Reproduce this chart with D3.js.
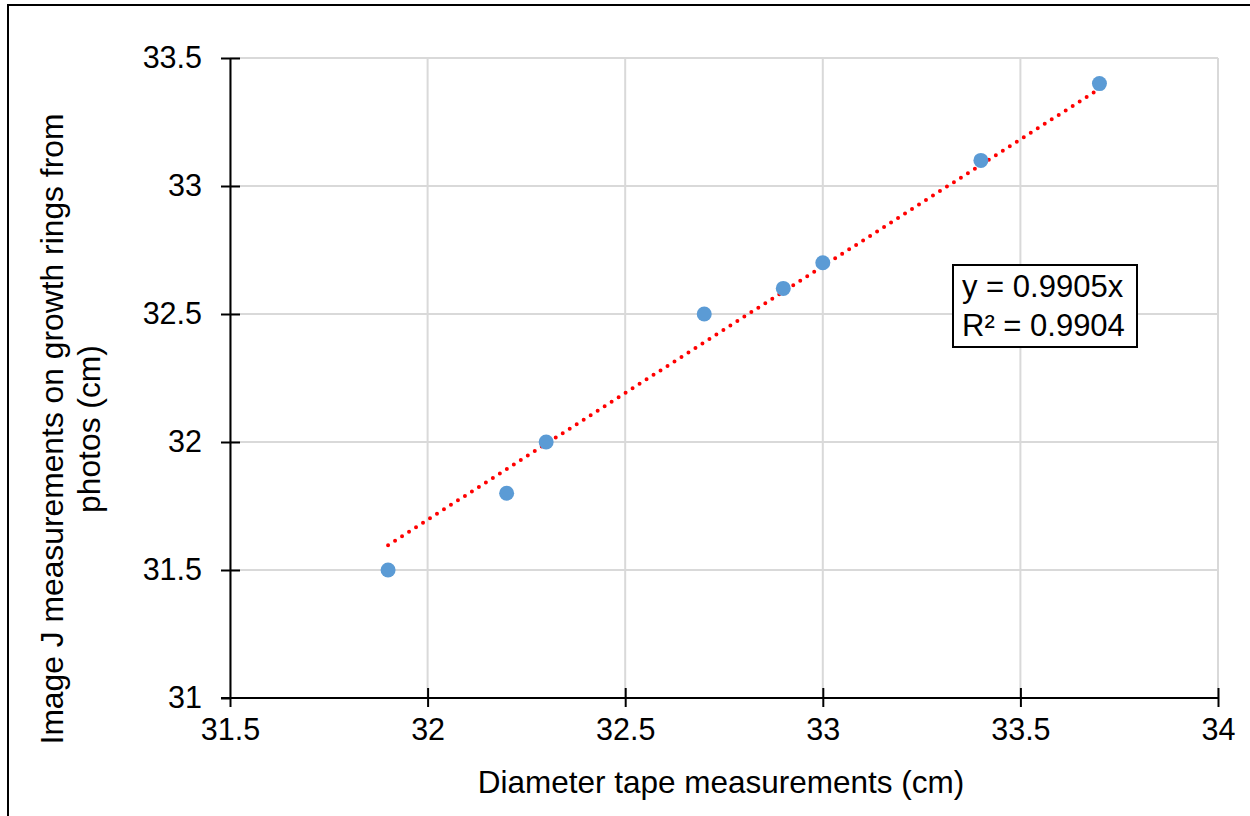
<!DOCTYPE html>
<html><head><meta charset="utf-8">
<script src="https://cdn.jsdelivr.net/npm/d3@7"></script>
<style>html,body{margin:0;padding:0;background:#fff;}svg{display:block;font-family:"Liberation Sans",Arial,sans-serif;}</style>
</head><body>
<svg id="c" width="1250" height="816"></svg>
<script>
const xValues = [31.9, 32.2, 32.3, 32.7, 32.9, 33.0, 33.4, 33.7];
const yValues = [31.5, 31.8, 32.0, 32.5, 32.6, 32.7, 33.1, 33.4];
const xTicks = [31.5, 32, 32.5, 33, 33.5, 34];
const yTicks = [31, 31.5, 32, 32.5, 33, 33.5];
const slope = 0.9905;
const eqLines = ["y = 0.9905x", "R² = 0.9904"];
const xTitle = "Diameter tape measurements (cm)";
const yTitleLines = ["Image J measurements on growth rings from", "photos (cm)"];

const svg = d3.select("#c");
const L = 230, R = 1218, T = 58, B = 698;
const x = d3.scaleLinear().domain([31.5, 34]).range([L, R]);
const y = d3.scaleLinear().domain([31, 33.5]).range([B, T]);

// outer border
svg.append("rect").attr("x", 8).attr("y", 5).attr("width", 1300).attr("height", 900)
  .attr("fill", "none").attr("stroke", "#000").attr("stroke-width", 2);

// gridlines
svg.append("g").selectAll("line").data(xTicks).join("line")
  .attr("x1", d => x(d)).attr("x2", d => x(d)).attr("y1", T).attr("y2", B)
  .attr("stroke", "#d9d9d9").attr("stroke-width", 2);
svg.append("g").selectAll("line").data(yTicks).join("line")
  .attr("x1", L).attr("x2", R).attr("y1", d => y(d)).attr("y2", d => y(d))
  .attr("stroke", "#d9d9d9").attr("stroke-width", 2);

// axes
const xAxis = svg.append("g").attr("transform", `translate(0,${B})`)
  .call(d3.axisBottom(x).tickValues(xTicks).tickSize(9).tickSizeOuter(0).tickFormat(d3.format("")));
const yAxis = svg.append("g").attr("transform", `translate(${L},0)`)
  .call(d3.axisLeft(y).tickValues(yTicks).tickSize(9).tickSizeOuter(0).tickFormat(d3.format("")));
[xAxis, yAxis].forEach(g => {
  g.select(".domain").attr("stroke", "#000").attr("stroke-width", 2);
  g.selectAll(".tick line").attr("stroke", "#000").attr("stroke-width", 2);
  g.selectAll(".tick text").attr("font-size", 30.5).attr("fill", "#000")
    .attr("font-family", "Liberation Sans, Arial, sans-serif");
});
// ticks crossing the axis
xAxis.selectAll(".tick").filter(d => d !== 31.5).append("line")
  .attr("y1", 0).attr("y2", -10).attr("stroke", "#000").attr("stroke-width", 2);
yAxis.selectAll(".tick").filter(d => d !== 31).append("line")
  .attr("x1", 0).attr("x2", 10).attr("stroke", "#000").attr("stroke-width", 2);
xAxis.select(".domain").attr("d", `M${L - 9},0H${R}`);
xAxis.selectAll(".tick text").attr("y", 20);
yAxis.selectAll(".tick text").attr("x", -28).attr("dy", "0.32em");

// trendline
const x0 = d3.min(xValues), x1 = d3.max(xValues);
svg.append("line")
  .attr("x1", x(x0)).attr("y1", y(slope * x0))
  .attr("x2", x(x1)).attr("y2", y(slope * x1))
  .attr("stroke", "#ff0000").attr("stroke-width", 4)
  .attr("stroke-linecap", "round").attr("stroke-dasharray", "0 8.3");

// points
svg.append("g").selectAll("circle").data(xValues).join("circle")
  .attr("cx", d => x(d)).attr("cy", (d, i) => y(yValues[i])).attr("r", 7.5)
  .attr("fill", "#5b9bd5");

// equation box
svg.append("rect").attr("x", 953).attr("y", 265).attr("width", 184).attr("height", 82)
  .attr("fill", "#fff").attr("stroke", "#000").attr("stroke-width", 2);
svg.append("g").selectAll("text").data(eqLines).join("text")
  .attr("x", 962).attr("y", (d, i) => 297 + i * 39)
  .attr("font-size", 31).attr("fill", "#000").text(d => d);

// axis titles
svg.append("text").attr("x", (L + R) / 2 - 3).attr("y", 793)
  .attr("text-anchor", "middle").attr("font-size", 31.5).attr("fill", "#000").text(xTitle);
svg.append("g").attr("transform", "translate(0,429) rotate(-90)")
  .selectAll("text").data(yTitleLines).join("text")
  .attr("x", 0).attr("y", (d, i) => 63 + i * 37)
  .attr("text-anchor", "middle").attr("font-size", 31.8).attr("fill", "#000").text(d => d);
</script>
</body></html>
